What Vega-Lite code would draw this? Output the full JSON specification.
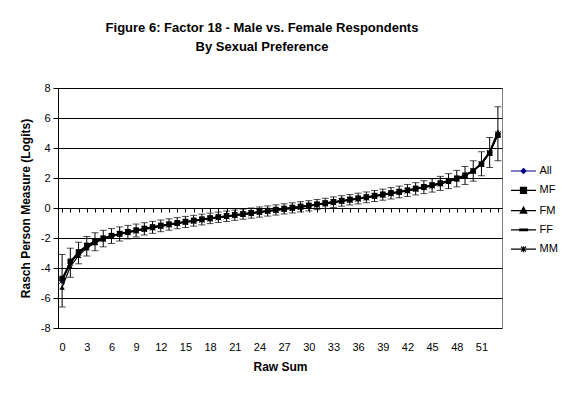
{
  "$schema": "https://vega.github.io/schema/vega-lite/v6.json",
  "width": 444,
  "height": 240,
  "autosize": "none",
  "padding": {"left": 58, "top": 88, "right": 74, "bottom": 66},
  "background": "white",
  "title": {
    "text": ["Figure 6: Factor 18 - Male vs. Female Respondents", "By Sexual Preference"],
    "font": "Liberation Sans",
    "fontSize": 13,
    "fontWeight": "bold",
    "color": "black",
    "anchor": "middle",
    "dx": -18,
    "offset": 28,
    "lineHeight": 19
  },
  "data": {
    "values": [
      {"raw": 0, "All": -4.85, "MF": -4.7, "FM": -5.3, "FF": -4.84, "MM": -4.87, "lo": -6.6, "hi": -3.1},
      {"raw": 1, "All": -3.65, "MF": -3.55, "FM": -3.9, "FF": -3.64, "MM": -3.67, "lo": -4.62, "hi": -2.68},
      {"raw": 2, "All": -3.0, "MF": -2.92, "FM": -3.17, "FF": -2.99, "MM": -3.02, "lo": -3.72, "hi": -2.28},
      {"raw": 3, "All": -2.55, "MF": -2.49, "FM": -2.67, "FF": -2.54, "MM": -2.57, "lo": -3.2, "hi": -1.9},
      {"raw": 4, "All": -2.25, "MF": -2.2, "FM": -2.33, "FF": -2.24, "MM": -2.27, "lo": -2.85, "hi": -1.65},
      {"raw": 5, "All": -2.04, "MF": -2.01, "FM": -2.07, "FF": -2.03, "MM": -2.06, "lo": -2.59, "hi": -1.49},
      {"raw": 6, "All": -1.87, "MF": -1.84, "FM": -1.9, "FF": -1.86, "MM": -1.89, "lo": -2.37, "hi": -1.37},
      {"raw": 7, "All": -1.73, "MF": -1.7, "FM": -1.76, "FF": -1.72, "MM": -1.75, "lo": -2.2, "hi": -1.26},
      {"raw": 8, "All": -1.61, "MF": -1.58, "FM": -1.64, "FF": -1.6, "MM": -1.63, "lo": -2.06, "hi": -1.16},
      {"raw": 9, "All": -1.5, "MF": -1.47, "FM": -1.53, "FF": -1.49, "MM": -1.52, "lo": -1.93, "hi": -1.07},
      {"raw": 10, "All": -1.39, "MF": -1.36, "FM": -1.42, "FF": -1.38, "MM": -1.41, "lo": -1.8, "hi": -0.98},
      {"raw": 11, "All": -1.29, "MF": -1.26, "FM": -1.32, "FF": -1.28, "MM": -1.31, "lo": -1.69, "hi": -0.89},
      {"raw": 12, "All": -1.19, "MF": -1.16, "FM": -1.22, "FF": -1.18, "MM": -1.21, "lo": -1.58, "hi": -0.8},
      {"raw": 13, "All": -1.1, "MF": -1.07, "FM": -1.13, "FF": -1.09, "MM": -1.12, "lo": -1.48, "hi": -0.72},
      {"raw": 14, "All": -1.01, "MF": -0.98, "FM": -1.04, "FF": -1.0, "MM": -1.03, "lo": -1.38, "hi": -0.64},
      {"raw": 15, "All": -0.93, "MF": -0.9, "FM": -0.96, "FF": -0.92, "MM": -0.95, "lo": -1.3, "hi": -0.56},
      {"raw": 16, "All": -0.85, "MF": -0.82, "FM": -0.88, "FF": -0.84, "MM": -0.87, "lo": -1.21, "hi": -0.49},
      {"raw": 17, "All": -0.77, "MF": -0.74, "FM": -0.8, "FF": -0.76, "MM": -0.79, "lo": -1.13, "hi": -0.41},
      {"raw": 18, "All": -0.69, "MF": -0.66, "FM": -0.72, "FF": -0.68, "MM": -0.71, "lo": -1.04, "hi": -0.34},
      {"raw": 19, "All": -0.62, "MF": -0.59, "FM": -0.65, "FF": -0.61, "MM": -0.64, "lo": -0.97, "hi": -0.27},
      {"raw": 20, "All": -0.55, "MF": -0.52, "FM": -0.58, "FF": -0.54, "MM": -0.57, "lo": -0.9, "hi": -0.2},
      {"raw": 21, "All": -0.48, "MF": -0.45, "FM": -0.51, "FF": -0.47, "MM": -0.5, "lo": -0.82, "hi": -0.14},
      {"raw": 22, "All": -0.41, "MF": -0.38, "FM": -0.44, "FF": -0.4, "MM": -0.43, "lo": -0.75, "hi": -0.07},
      {"raw": 23, "All": -0.34, "MF": -0.31, "FM": -0.37, "FF": -0.33, "MM": -0.36, "lo": -0.68, "hi": 0.0},
      {"raw": 24, "All": -0.27, "MF": -0.24, "FM": -0.3, "FF": -0.26, "MM": -0.29, "lo": -0.61, "hi": 0.07},
      {"raw": 25, "All": -0.2, "MF": -0.17, "FM": -0.23, "FF": -0.19, "MM": -0.22, "lo": -0.54, "hi": 0.14},
      {"raw": 26, "All": -0.13, "MF": -0.1, "FM": -0.16, "FF": -0.12, "MM": -0.15, "lo": -0.47, "hi": 0.21},
      {"raw": 27, "All": -0.06, "MF": -0.03, "FM": -0.09, "FF": -0.05, "MM": -0.08, "lo": -0.4, "hi": 0.28},
      {"raw": 28, "All": 0.01, "MF": 0.04, "FM": -0.02, "FF": 0.02, "MM": -0.01, "lo": -0.33, "hi": 0.35},
      {"raw": 29, "All": 0.08, "MF": 0.11, "FM": 0.05, "FF": 0.09, "MM": 0.06, "lo": -0.26, "hi": 0.42},
      {"raw": 30, "All": 0.15, "MF": 0.18, "FM": 0.12, "FF": 0.16, "MM": 0.13, "lo": -0.19, "hi": 0.49},
      {"raw": 31, "All": 0.23, "MF": 0.26, "FM": 0.2, "FF": 0.24, "MM": 0.21, "lo": -0.11, "hi": 0.57},
      {"raw": 32, "All": 0.31, "MF": 0.34, "FM": 0.28, "FF": 0.32, "MM": 0.29, "lo": -0.03, "hi": 0.65},
      {"raw": 33, "All": 0.39, "MF": 0.42, "FM": 0.36, "FF": 0.4, "MM": 0.37, "lo": 0.04, "hi": 0.74},
      {"raw": 34, "All": 0.47, "MF": 0.5, "FM": 0.44, "FF": 0.48, "MM": 0.45, "lo": 0.12, "hi": 0.82},
      {"raw": 35, "All": 0.55, "MF": 0.58, "FM": 0.52, "FF": 0.56, "MM": 0.53, "lo": 0.2, "hi": 0.9},
      {"raw": 36, "All": 0.63, "MF": 0.66, "FM": 0.6, "FF": 0.64, "MM": 0.61, "lo": 0.27, "hi": 0.99},
      {"raw": 37, "All": 0.71, "MF": 0.74, "FM": 0.68, "FF": 0.72, "MM": 0.69, "lo": 0.35, "hi": 1.07},
      {"raw": 38, "All": 0.8, "MF": 0.83, "FM": 0.77, "FF": 0.81, "MM": 0.78, "lo": 0.43, "hi": 1.17},
      {"raw": 39, "All": 0.89, "MF": 0.92, "FM": 0.86, "FF": 0.9, "MM": 0.87, "lo": 0.52, "hi": 1.26},
      {"raw": 40, "All": 0.98, "MF": 1.01, "FM": 0.95, "FF": 0.99, "MM": 0.96, "lo": 0.6, "hi": 1.36},
      {"raw": 41, "All": 1.07, "MF": 1.1, "FM": 1.04, "FF": 1.08, "MM": 1.05, "lo": 0.68, "hi": 1.46},
      {"raw": 42, "All": 1.17, "MF": 1.2, "FM": 1.14, "FF": 1.18, "MM": 1.15, "lo": 0.77, "hi": 1.57},
      {"raw": 43, "All": 1.28, "MF": 1.31, "FM": 1.25, "FF": 1.29, "MM": 1.26, "lo": 0.87, "hi": 1.69},
      {"raw": 44, "All": 1.39, "MF": 1.42, "FM": 1.36, "FF": 1.4, "MM": 1.37, "lo": 0.96, "hi": 1.82},
      {"raw": 45, "All": 1.51, "MF": 1.54, "FM": 1.48, "FF": 1.52, "MM": 1.49, "lo": 1.06, "hi": 1.96},
      {"raw": 46, "All": 1.64, "MF": 1.67, "FM": 1.61, "FF": 1.65, "MM": 1.62, "lo": 1.17, "hi": 2.11},
      {"raw": 47, "All": 1.79, "MF": 1.82, "FM": 1.76, "FF": 1.8, "MM": 1.77, "lo": 1.29, "hi": 2.29},
      {"raw": 48, "All": 1.96, "MF": 1.99, "FM": 1.93, "FF": 1.97, "MM": 1.94, "lo": 1.41, "hi": 2.51},
      {"raw": 49, "All": 2.17, "MF": 2.19, "FM": 2.19, "FF": 2.18, "MM": 2.15, "lo": 1.57, "hi": 2.77},
      {"raw": 50, "All": 2.47, "MF": 2.47, "FM": 2.51, "FF": 2.48, "MM": 2.45, "lo": 1.79, "hi": 3.15},
      {"raw": 51, "All": 2.95, "MF": 2.92, "FM": 3.01, "FF": 2.96, "MM": 2.93, "lo": 2.15, "hi": 3.75},
      {"raw": 52, "All": 3.7, "MF": 3.65, "FM": 3.78, "FF": 3.71, "MM": 3.68, "lo": 2.7, "hi": 4.7},
      {"raw": 53, "All": 4.95, "MF": 4.85, "FM": 5.1, "FF": 4.96, "MM": 4.93, "lo": 3.15, "hi": 6.75}
    ]
  },
  "resolve": {"axis": {"x": "independent"}},
  "layer": [
    {
      "transform": [{"fold": ["All", "MF", "FM", "FF", "MM"], "as": ["series", "value"]}],
      "mark": {"type": "line", "strokeWidth": 1.2},
      "encoding": {
        "x": {"field": "raw", "type": "quantitative", "scale": {"domain": [-0.5, 53.5], "nice": false, "zero": false},
          "axis": {"values": [0, 3, 6, 9, 12, 15, 18, 21, 24, 27, 30, 33, 36, 39, 42, 45, 48, 51], "ticks": false, "domain": false, "grid": false, "labelPadding": 13, "title": "Raw Sum", "titlePadding": 9}},
        "y": {"field": "value", "type": "quantitative", "scale": {"domain": [-8, 8], "nice": false},
          "axis": {"title": "Rasch Person Measure (Logits)", "values": [-8, -6, -4, -2, 0, 2, 4, 6, 8], "labelExpr": "datum.value + ''"}},
        "color": {"field": "series", "type": "nominal",
          "scale": {"domain": ["All", "MF", "FM", "FF", "MM"], "range": ["#000080", "black", "black", "black", "black"]},
          "legend": {
            "title": null,
            "orient": "none",
            "legendX": 459.5,
            "legendY": 77,
            "padding": 0,
            "symbolSize": 100,
            "rowPadding": 8.3,
            "labelOffset": 10,
            "labelFont": "Liberation Sans",
            "labelFontSize": 11,
            "labelColor": "black",
            "symbolStrokeWidth": 1.2,
            "encode": {
              "symbols": {
                "update": {
                  "shape": {"signal": "datum.value === 'All' ? 'M-2.5,0H2.5M0,-0.5L0.5,0L0,0.5L-0.5,0Z' : datum.value === 'MF' ? 'M-2.5,0H2.5M-0.6,-0.6H0.6V0.6H-0.6Z' : datum.value === 'FM' ? 'M-2.5,0H2.5M0,-0.7L0.65,0.5H-0.65Z' : datum.value === 'FF' ? 'M-2.5,0H2.5M-0.8,-0.15H0.8V0.15H-0.8Z' : 'M-2.5,0H2.5M-0.5,-0.5L0.5,0.5M-0.5,0.5L0.5,-0.5M0,-0.6V0.6'"},
                  "fill": {"signal": "datum.value === 'All' ? '#000080' : 'black'"},
                  "stroke": {"signal": "datum.value === 'All' ? '#000080' : 'black'"},
                  "opacity": {"value": 1}
                }
              }
            }
          }},
        "detail": {"field": "series"}
      }
    },
    {
      "mark": {"type": "rule", "color": "black", "strokeWidth": 1},
      "encoding": {
        "x": {"field": "raw", "type": "quantitative", "axis": null},
        "y": {"field": "lo", "type": "quantitative", "axis": {"title": "Rasch Person Measure (Logits)", "values": [-8, -6, -4, -2, 0, 2, 4, 6, 8], "labelExpr": "datum.value + ''"}},
        "y2": {"field": "hi"}
      }
    },
    {
      "mark": {"type": "tick", "orient": "horizontal", "color": "black", "size": 7, "thickness": 1},
      "encoding": {
        "x": {"field": "raw", "type": "quantitative", "axis": null},
        "y": {"field": "lo", "type": "quantitative", "axis": {"title": "Rasch Person Measure (Logits)", "values": [-8, -6, -4, -2, 0, 2, 4, 6, 8], "labelExpr": "datum.value + ''"}}
      }
    },
    {
      "mark": {"type": "tick", "orient": "horizontal", "color": "black", "size": 7, "thickness": 1},
      "encoding": {
        "x": {"field": "raw", "type": "quantitative", "axis": null},
        "y": {"field": "hi", "type": "quantitative", "axis": {"title": "Rasch Person Measure (Logits)", "values": [-8, -6, -4, -2, 0, 2, 4, 6, 8], "labelExpr": "datum.value + ''"}}
      }
    },
    {
      "mark": {"type": "point", "shape": "diamond", "filled": true, "size": 24, "color": "#000080", "opacity": 1},
      "encoding": {
        "x": {"field": "raw", "type": "quantitative",
          "axis": {"orient": "bottom", "offset": -120, "values": [0,1,2,3,4,5,6,7,8,9,10,11,12,13,14,15,16,17,18,19,20,21,22,23,24,25,26,27,28,29,30,31,32,33,34,35,36,37,38,39,40,41,42,43,44,45,46,47,48,49,50,51,52,53], "labels": false, "tickSize": 4, "grid": false, "title": null}},
        "y": {"field": "All", "type": "quantitative", "axis": {"title": "Rasch Person Measure (Logits)", "values": [-8, -6, -4, -2, 0, 2, 4, 6, 8], "labelExpr": "datum.value + ''"}}
      }
    },
    {
      "mark": {"type": "point", "shape": "square", "filled": true, "size": 30, "color": "black", "opacity": 1},
      "encoding": {
        "x": {"field": "raw", "type": "quantitative", "axis": null},
        "y": {"field": "MF", "type": "quantitative", "axis": {"title": "Rasch Person Measure (Logits)", "values": [-8, -6, -4, -2, 0, 2, 4, 6, 8], "labelExpr": "datum.value + ''"}}
      }
    },
    {
      "mark": {"type": "point", "shape": "triangle-up", "filled": true, "size": 30, "color": "black", "opacity": 1},
      "encoding": {
        "x": {"field": "raw", "type": "quantitative", "axis": null},
        "y": {"field": "FM", "type": "quantitative", "axis": {"title": "Rasch Person Measure (Logits)", "values": [-8, -6, -4, -2, 0, 2, 4, 6, 8], "labelExpr": "datum.value + ''"}}
      }
    },
    {
      "mark": {"type": "point", "shape": "M-1,-0.25H1V0.25H-1Z", "filled": true, "size": 30, "color": "black", "opacity": 1},
      "encoding": {
        "x": {"field": "raw", "type": "quantitative", "axis": null},
        "y": {"field": "FF", "type": "quantitative", "axis": {"title": "Rasch Person Measure (Logits)", "values": [-8, -6, -4, -2, 0, 2, 4, 6, 8], "labelExpr": "datum.value + ''"}}
      }
    },
    {
      "mark": {"type": "point", "shape": "M-1,-1L1,1M-1,1L1,-1M0,-1V1", "filled": false, "size": 30, "color": "black", "strokeWidth": 1, "opacity": 1},
      "encoding": {
        "x": {"field": "raw", "type": "quantitative", "axis": null},
        "y": {"field": "MM", "type": "quantitative", "axis": {"title": "Rasch Person Measure (Logits)", "values": [-8, -6, -4, -2, 0, 2, 4, 6, 8], "labelExpr": "datum.value + ''"}}
      }
    }
  ],
  "config": {
    "view": {"stroke": "#808080", "strokeWidth": 1},
    "axis": {
      "labelFont": "Liberation Sans",
      "labelFontSize": 11,
      "labelColor": "black",
      "titleFont": "Liberation Sans",
      "titleFontSize": 12,
      "titleFontWeight": "bold",
      "titleColor": "black",
      "domainColor": "black",
      "tickColor": "black",
      "gridColor": "black",
      "gridOpacity": 1
    },
    "axisY": {"grid": true, "tickSize": 5, "labelPadding": 3, "titlePadding": 8}
  }
}
